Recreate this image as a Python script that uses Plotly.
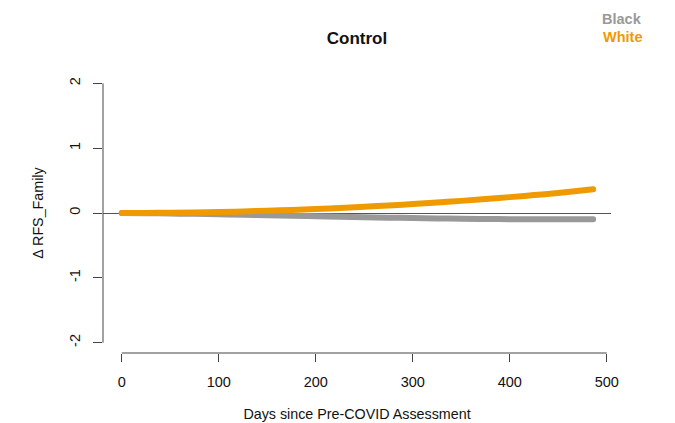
import plotly.graph_objects as go

days = [0, 25, 50, 75, 100, 125, 150, 175, 200, 225, 250, 275, 300, 325, 350, 375, 400, 425, 450, 486]
black = [0.0, -0.003, -0.008, -0.013, -0.02, -0.027, -0.035, -0.043, -0.05, -0.057,
         -0.065, -0.072, -0.078, -0.084, -0.089, -0.092, -0.095, -0.097, -0.098, -0.097]
white = [0.0, 0.001, 0.004, 0.009, 0.015, 0.024, 0.034, 0.047, 0.061, 0.077,
         0.096, 0.116, 0.138, 0.162, 0.187, 0.215, 0.245, 0.276, 0.31, 0.365]
x_ticks = [0, 100, 200, 300, 400, 500]
y_ticks = [-2, -1, 0, 1, 2]

GRAY = "#999999"
ORANGE = "#EE9A00"
AX = "#444444"
FONT = "Liberation Sans, Arial, sans-serif"

fig = go.Figure()
fig.add_trace(go.Scatter(x=days, y=black, mode="lines", line=dict(color=GRAY, width=6, shape="spline"),
                         name="Black", showlegend=False))
fig.add_trace(go.Scatter(x=days, y=white, mode="lines", line=dict(color=ORANGE, width=6, shape="spline"),
                         name="White", showlegend=False))

xr = [-19.4, 504.4]
yr = [-2.16, 2.16]

fig.update_layout(
    width=675, height=423,
    margin=dict(l=103, r=64, t=73, b=70),
    paper_bgcolor="white", plot_bgcolor="white",
    font=dict(family=FONT, size=14.5, color="#111111"),
    title=dict(text="<b>Control</b>", x=(357) / 675, xanchor="center", y=1 - 38 / 423, yanchor="middle",
               font=dict(size=17, color="#111111")),
    xaxis=dict(range=xr, tickvals=x_ticks, ticktext=[str(v) for v in x_ticks], automargin=False,
               ticks="outside", ticklen=8, tickcolor=AX, tickwidth=1, ticklabelstandoff=8,
               tickfont=dict(size=14.5),
               showgrid=False, zeroline=False, showline=False,
               title=dict(text="Days since Pre-COVID Assessment", standoff=19, font=dict(size=14.3))),
    yaxis=dict(range=yr, tickvals=y_ticks, ticktext=[str(v) for v in y_ticks], automargin=False,
               ticks="outside", ticklen=9, tickcolor=AX, tickwidth=1, ticklabelstandoff=7,
               tickfont=dict(size=14.5),
               tickangle=-90, showgrid=False, zeroline=True, zerolinecolor="#555555", zerolinewidth=1,
               showline=False,
               title=dict(text="Δ RFS_Family", standoff=20, font=dict(size=14.3))),
)

# R-style axis lines spanning first to last tick
fig.add_shape(type="line", xref="x", yref="paper", x0=x_ticks[0], x1=x_ticks[-1], y0=0, y1=0,
              line=dict(color=AX, width=1))
fig.add_shape(type="line", xref="paper", yref="y", x0=0, x1=0, y0=y_ticks[0], y1=y_ticks[-1],
              line=dict(color=AX, width=1))

fig.add_annotation(text="<b>Black</b>", xref="paper", yref="paper", x=(622 - 103) / 508, y=(353.4 - 18) / 280.8,
                   showarrow=False, xanchor="center", yanchor="middle", font=dict(size=14.5, color=GRAY))
fig.add_annotation(text="<b>White</b>", xref="paper", yref="paper", x=(622 - 103) / 508, y=(353.4 - 36) / 280.8,
                   showarrow=False, xanchor="center", yanchor="middle", font=dict(size=14.5, color=ORANGE))

post = (
    "document.body.style.margin='0';document.body.style.padding='0';"
    "document.querySelectorAll('.scatterlayer path.js-line').forEach(function(p){"
    "p.style.strokeLinecap='round';p.style.strokeLinejoin='round';});"
)
fig.write_html("out.html", config={"displayModeBar": False}, post_script=post)
